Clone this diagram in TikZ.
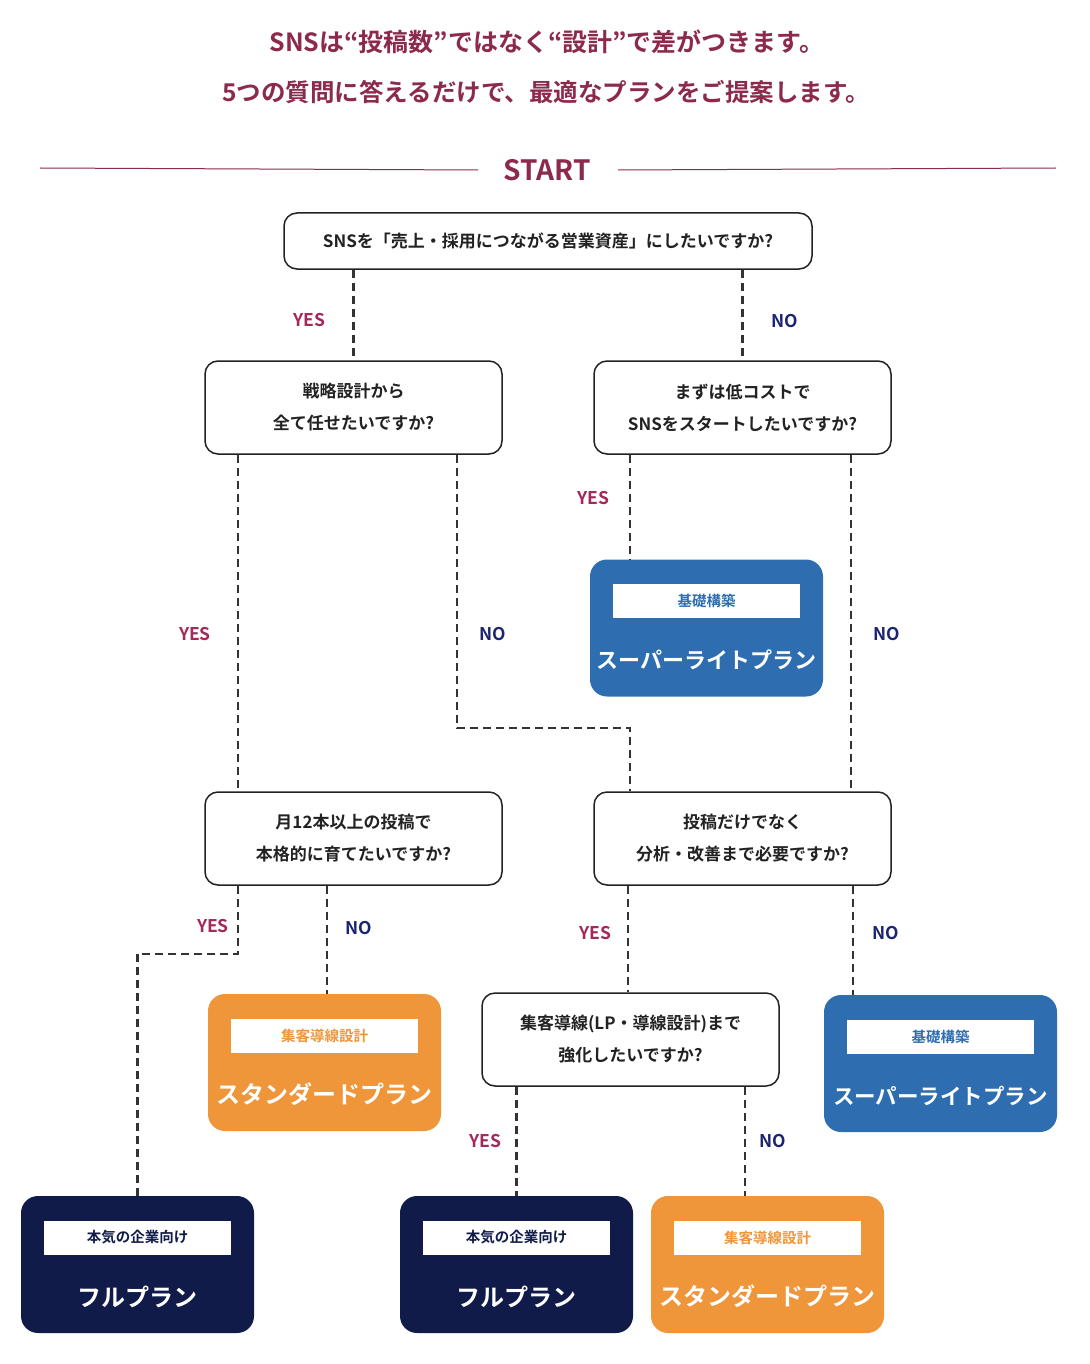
\documentclass[tikz,border=0pt]{standalone}
\usepackage{fontspec}
\setmainfont{Noto Sans CJK JP}[BoldFont={Noto Sans CJK JP Bold}]
\usetikzlibrary{calc}
\definecolor{titlec}{HTML}{8C2A4B}
\definecolor{yesc}{HTML}{A3285C}
\definecolor{noc}{HTML}{1B2470}
\definecolor{planblue}{HTML}{2F6DB1}
\definecolor{planorange}{HTML}{EF953A}
\definecolor{plannavy}{HTML}{111B49}
\definecolor{linec}{HTML}{333333}
\definecolor{textc}{HTML}{222222}
\tikzset{
  qbox/.style={draw=textc, line width=1.5pt, rounded corners=13pt, fill=white,
    minimum width=297pt, minimum height=93pt, inner sep=0pt, align=center,
    font=\fontsize{17}{32}\selectfont\bfseries, text=textc},
  planbox/.style={rounded corners=17pt, minimum width=233pt, minimum height=137pt, inner sep=0pt},
  plantag/.style={fill=white, minimum width=187pt, minimum height=34pt, inner sep=0pt,
    font=\fontsize{14.5}{16}\selectfont\bfseries},
  planname/.style={text=white, inner sep=0pt, font=\bfseries},
  dline/.style={draw=linec, line width=2.1pt, dash pattern=on 8pt off 5pt},
  yeslab/.style={text=yesc, font=\fontsize{17.5}{18}\selectfont\bfseries, inner sep=0pt},
  nolab/.style={text=noc, font=\fontsize{17.5}{18}\selectfont\bfseries, inner sep=0pt},
}
\newcommand\planmake[6]{%
  \node[planbox, fill=#3] (#1) at (#2) {};
  \node[plantag, text=#3] (#1tag) at ($(#1.center)+(0,-27)$) {#4};
  \node[planname, font=\fontsize{#6}{#6}\selectfont\bfseries] (#1name) at ($(#1.center)+(0,32)$) {#5};
}
\begin{document}
\begin{tikzpicture}[x=1pt,y=-1pt]
\useasboundingbox[fill=white] (0,0) rectangle (1089,1364);
% title
\node[text=titlec, font=\fontsize{25}{26}\selectfont\bfseries, inner sep=0pt] (t1) at (547,42) {SNSは“投稿数”ではなく“設計”で差がつきます。};
\node[text=titlec, font=\fontsize{24.5}{26}\selectfont\bfseries, inner sep=0pt] (t2) at (546,92) {5つの質問に答えるだけで、最適なプランをご提案します。};
\node[text=titlec, font=\fontsize{28}{30}\selectfont\bfseries, inner sep=0pt] (start) at (547,170) {START};
\coordinate (sl) at (40,168);
\coordinate (sr) at (1056,168);
\draw[titlec, line width=1pt] (sl) -- (start.west -| 478,0);
\draw[titlec, line width=1pt] (start.east -| 618,0) -- (sr);
% questions
\node[qbox, minimum width=528pt, minimum height=56pt] (q1) at (548,241) {SNSを「売上・採用につながる営業資産」にしたいですか?};
\node[qbox] (q2l) at (353.5,407.5) {戦略設計から\\全て任せたいですか?};
\node[qbox] (q2r) at (742.5,407.5) {まずは低コストで\\SNSをスタートしたいですか?};
\node[qbox] (q3l) at (353.5,838.5) {月12本以上の投稿で\\本格的に育てたいですか?};
\node[qbox] (q3r) at (742.5,838.5) {投稿だけでなく\\分析・改善まで必要ですか?};
\node[qbox] (q4) at (630.5,1039.5) {集客導線(LP・導線設計)まで\\強化したいですか?};
% plans
\planmake{b1}{706.5,628}{planblue}{基礎構築}{スーパーライトプラン}{22}
\planmake{o1}{324.5,1062.5}{planorange}{集客導線設計}{スタンダードプラン}{24}
\planmake{b2}{940.5,1063.5}{planblue}{基礎構築}{スーパーライトプラン}{21.5}
\planmake{n1}{137.5,1264.5}{plannavy}{本気の企業向け}{フルプラン}{24}
\planmake{n2}{516.5,1264.5}{plannavy}{本気の企業向け}{フルプラン}{24}
\planmake{o2}{767.5,1264.5}{planorange}{集客導線設計}{スタンダードプラン}{24}
% connector helper coordinates
\coordinate (c2ly) at ([xshift=34]q2l.south west);
\coordinate (c2ln) at ([xshift=253]q2l.south west);
\coordinate (c2lm) at ([xshift=253,yshift=-273]q2l.south west);
\coordinate (c3rt) at ([xshift=37]q3r.north west);
\coordinate (c2ry) at ([xshift=37]q2r.south west);
\coordinate (c2rn) at ([xshift=258]q2r.south west);
\coordinate (c3ly) at ([xshift=34]q3l.south west);
\coordinate (c3lm) at ([xshift=34,yshift=-68]q3l.south west);
\coordinate (c3ln) at ([xshift=123]q3l.south west);
\coordinate (c3ry) at ([xshift=35]q3r.south west);
\coordinate (c3rn) at ([xshift=260]q3r.south west);
\coordinate (c4n) at ([xshift=264]q4.south west);
% connectors
\draw[dline] (q1.south -| q2l.north) -- (q2l.north);
\draw[dline] (q1.south -| q2r.north) -- (q2r.north);
\draw[dline] (c2ly) -- (c2ly |- q3l.north);
\draw[dline] (c2ln) -- (c2lm) -| (c3rt);
\draw[dline] (c2ry) -- (c2ry |- b1.north);
\draw[dline] (c2rn) -- (c2rn |- q3r.north);
\draw[dline] (c3ly) -- (c3lm) -| (n1.north);
\draw[dline] (c3ln) -- (c3ln |- o1.north);
\draw[dline] (c3ry) -- (c3ry |- q4.north);
\draw[dline] (c3rn) -- (c3rn |- b2.north);
\draw[dline] (q4.south -| n2.north) -- (n2.north);
\draw[dline] (c4n) -- (c4n |- o2.north);
% labels
\node[yeslab] (l1y) at (309,320) {YES};
\node[nolab] (l1n) at (785,321) {NO};
\node[yeslab] (l2ly) at (195,634) {YES};
\node[nolab] (l2ln) at (493,634) {NO};
\node[yeslab] (l2ry) at (593,498) {YES};
\node[nolab] (l2rn) at (887,634) {NO};
\node[yeslab] (l3ly) at (213,926) {YES};
\node[nolab] (l3ln) at (359,928) {NO};
\node[yeslab] (l3ry) at (595,933) {YES};
\node[nolab] (l3rn) at (886,933) {NO};
\node[yeslab] (l4y) at (485,1141) {YES};
\node[nolab] (l4n) at (773,1141) {NO};
\end{tikzpicture}
\end{document}
